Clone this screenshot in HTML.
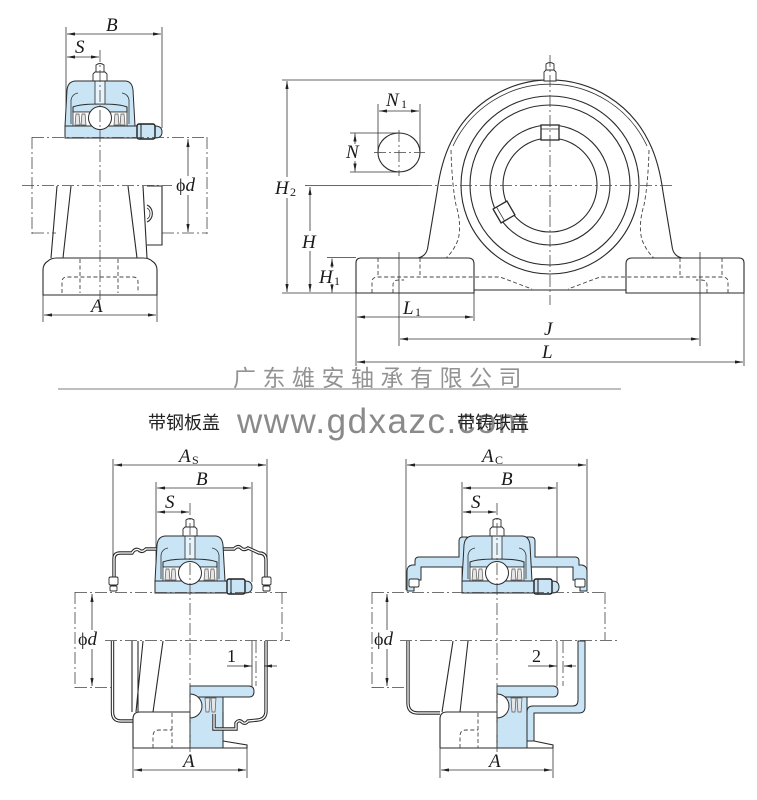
<!DOCTYPE html>
<html><head><meta charset="utf-8">
<style>
html,body{margin:0;padding:0;background:#fff;width:757px;height:800px;overflow:hidden;}
svg{display:block;}
.o{fill:none;stroke:#2a2a2a;stroke-width:1.1;}
.t{fill:none;stroke:#333;stroke-width:.8;}
.c{fill:none;stroke:#444;stroke-width:.8;stroke-dasharray:12 3 2 3;}
.h{fill:none;stroke:#444;stroke-width:.9;stroke-dasharray:4 2.5;}
.d{fill:none;stroke:#333;stroke-width:.8;marker-start:url(#a);marker-end:url(#a);}
.d1{fill:none;stroke:#333;stroke-width:.8;marker-end:url(#a);}
.lb{font-family:"Liberation Serif",serif;font-style:italic;font-size:19px;fill:#1a1a1a;}
.sb{font-family:"Liberation Serif",serif;font-style:normal;font-size:12px;fill:#1a1a1a;}
.nm{font-family:"Liberation Serif",serif;font-style:normal;font-size:18px;fill:#1a1a1a;}
.bl{fill:#c8e4f5;stroke:#2a2a2a;stroke-width:1;}
.w{fill:#fff;stroke:none;}
</style></head>
<body>
<svg width="757" height="800" viewBox="0 0 757 800" xmlns="http://www.w3.org/2000/svg">
<defs>
<marker id="a" viewBox="0 0 10 4" refX="10" refY="2" markerWidth="8" markerHeight="3.2" orient="auto-start-reverse" markerUnits="userSpaceOnUse"><path d="M0,0 L10,2 L0,4 Z" fill="#222"/></marker>
<g id="brg">
 <path class="bl" d="M-35,-12 L-33,-48 Q-32,-57 -24,-57 L25,-57 Q32,-57 33,-48 L35,-12 Z"/>
 <path class="t" d="M-29,-14 L-29,-38 Q-28,-44 -22,-45"/>
 <path class="t" d="M29,-14 L29,-38 Q28,-44 22,-45"/>
 <path class="bl" d="M-27,-26 L-27,-31 Q-20,-34 0,-34 Q20,-34 27,-31 L27,-26 Z"/>
 <rect x="-27" y="-26" width="54" height="14" fill="#fff" stroke="#2a2a2a" stroke-width=".8"/>
 <g stroke="#555" stroke-width=".7" fill="#e6e6e6">
  <path d="M-25,-13 L-24,-24 L-21,-24 L-20,-13 Z"/>
  <path d="M-19,-13 L-18,-24 L-15,-24 L-14,-13 Z"/>
  <path d="M25,-13 L24,-24 L21,-24 L20,-13 Z"/>
  <path d="M19,-13 L18,-24 L15,-24 L14,-13 Z"/>
 </g>
 <path class="bl" d="M-35,-12 L55,-12 Q62,-12 62,-6 Q62,0 55,0 L-35,0 Z"/>
 <rect x="37" y="-14" width="18" height="15" rx="2" fill="#c8e4f5" stroke="#1e1e1e" stroke-width="1.4"/>
 <line x1="41" y1="-14" x2="41" y2="1" stroke="#222" stroke-width="1"/>
 <circle cx="0" cy="-20" r="11.5" fill="#fff" stroke="#2a2a2a" stroke-width="1"/>
 <rect x="-5" y="-57" width="10" height="23" fill="#e8f4fb" stroke="#2a2a2a" stroke-width=".8"/>
 <path fill="#fff" stroke="#2a2a2a" stroke-width=".9" d="M-7,-57 L-7,-64 L-5,-66 L5,-66 L7,-64 L7,-57 Z"/>
 <path fill="#fff" stroke="#2a2a2a" stroke-width=".9" d="M-4,-66 L-4,-73 Q0,-76 4,-73 L4,-66 Z"/>
</g>
</defs>
<rect width="757" height="800" fill="#fff"/>

<!-- ============ TOP LEFT VIEW ============ -->
<line class="t" x1="66" y1="27" x2="66" y2="134"/>
<line class="t" x1="162" y1="27" x2="162" y2="128"/>
<line class="d" x1="67" y1="34" x2="161" y2="34"/>
<line class="d" x1="67" y1="57" x2="99" y2="57"/>
<text class="lb" x="106" y="31">B</text>
<text class="lb" x="75" y="53">S</text>

<use href="#brg" x="100" y="138"/>

<line class="c" x1="32" y1="137.5" x2="207" y2="137.5"/>
<line class="c" x1="32" y1="137" x2="32" y2="237"/>
<line class="c" x1="207" y1="137" x2="207" y2="237"/>
<line class="c" x1="32" y1="233" x2="56" y2="233"/>
<line class="c" x1="162" y1="233" x2="207" y2="233"/>
<line class="c" x1="22" y1="185.5" x2="172" y2="185.5"/>
<line class="d" x1="188" y1="139" x2="188" y2="232"/>
<rect class="w" x="176" y="176" width="26" height="19"/>
<text class="nm" x="176" y="191">ϕ<tspan class="lb" font-size="19">d</tspan></text>

<path class="o" d="M57,186 L51,258"/>
<path class="o" d="M71,186 L63,258"/>
<path class="o" d="M128,186 L137,258"/>
<path class="o" d="M143,186 L147,258"/>
<path class="o" d="M147,186 L162,186 L162,245 L147,245"/>
<path class="o" d="M147,205 A8,9 0 0 1 147,222"/>
<path class="t" d="M147,208 A5,6 0 0 1 147,219"/>
<path class="o" d="M43,295 L43,270 Q43,264 48,261 Q51,258 57,258 L143,258 Q149,258 152,261 Q157,264 157,270 L157,295 Z"/>
<path class="h" d="M80,259 L80,293 M118,259 L118,293"/>
<path class="h" d="M62,293 L62,282 Q62,277 67,277 L133,277 Q138,277 138,282 L138,293"/>
<line class="c" x1="100" y1="50" x2="100" y2="300"/>
<line class="t" x1="43" y1="295" x2="43" y2="322"/>
<line class="t" x1="157" y1="295" x2="157" y2="322"/>
<line class="d" x1="44" y1="315" x2="156" y2="315"/>
<text class="lb" x="91" y="312">A</text>

<!-- ============ MAIN FRONT VIEW ============ -->
<line class="t" x1="282" y1="80" x2="545" y2="80"/>
<line class="t" x1="282" y1="293" x2="356" y2="293"/>
<line class="t" x1="305" y1="185.5" x2="420" y2="185.5"/>
<line class="t" x1="327" y1="257.5" x2="356" y2="257.5"/>
<line class="d" x1="287" y1="81" x2="287" y2="292"/>
<rect class="w" x="273" y="177" width="28" height="21"/>
<text class="lb" x="275" y="194">H</text><text class="sb" x="290" y="196">2</text>
<line class="d" x1="310" y1="187" x2="310" y2="292"/>
<rect class="w" x="300" y="231" width="19" height="20"/>
<text class="lb" x="302" y="248">H</text>
<line class="d1" x1="332" y1="268" x2="332" y2="258.5"/>
<line class="d1" x1="332" y1="284" x2="332" y2="292.5"/>
<text class="lb" x="319" y="283">H</text><text class="sb" x="334" y="285">1</text>

<line class="t" x1="378" y1="104" x2="378" y2="153"/>
<line class="t" x1="420" y1="104" x2="420" y2="153"/>
<line class="d" x1="379" y1="111" x2="419" y2="111"/>
<text class="lb" x="386" y="106">N</text><text class="sb" x="401" y="108">1</text>
<line class="t" x1="350" y1="133" x2="400" y2="133"/>
<line class="t" x1="350" y1="172" x2="400" y2="172"/>
<line class="d1" x1="355" y1="144" x2="355" y2="133.5"/>
<line class="d1" x1="355" y1="161" x2="355" y2="171.5"/>
<text class="lb" x="346" y="158">N</text>
<ellipse class="o" cx="399" cy="152.5" rx="21" ry="19.5"/>
<line class="c" x1="374" y1="152.5" x2="425" y2="152.5"/>
<line class="c" x1="399" y1="130" x2="399" y2="176"/>

<path class="o" d="M418,258 Q427,256 428,246 L437,192 Q441,162 451,142"/>
<path class="o" d="M682,258 Q673,256 672,246 L663,192 Q659,162 649,142"/>
<path class="o" d="M451,142 A110,110 0 0 1 649,142"/>
<path class="t" d="M453,146 A107,107 0 0 1 647,146"/>
<path class="o" d="M356,293 L356,263 Q356,258 361,258 L468,258 Q474,258 474,264 L474,293 Z"/>
<path class="o" d="M744,293 L744,263 Q744,258 739,258 L632,258 Q626,258 626,264 L626,293 Z"/>
<path class="o" d="M474,290 L626,290"/>
<path class="h" d="M378,258 L378,277 M420,258 L420,277"/>
<path class="h" d="M372,293 L372,282 Q372,277 378,277 L500,277 L532,289"/>
<path class="h" d="M393,293 L393,285 Q393,280 399,280 L404,280"/>
<path class="h" d="M680,258 L680,277 M722,258 L722,277"/>
<path class="h" d="M728,293 L728,282 Q728,277 722,277 L600,277 L568,289"/>
<path class="h" d="M707,293 L707,285 Q707,280 701,280 L696,280"/>
<path class="h" d="M451,150 Q452,185 456,205 Q462,225 458,240 Q453,252 446,258"/>
<path class="h" d="M649,150 Q648,185 644,205 Q638,225 642,240 Q647,252 654,258"/>
<circle class="o" cx="550" cy="185" r="89"/>
<circle class="o" cx="550" cy="185" r="80"/>
<circle class="o" cx="550" cy="185" r="60"/>
<circle class="o" cx="550" cy="185" r="47"/>
<rect x="541" y="125" width="18" height="15" fill="#fff" stroke="#2a2a2a" stroke-width="1.3"/>
<line class="t" x1="541" y1="129" x2="559" y2="129"/>
<g transform="translate(504,212) rotate(-30)">
<rect x="-8" y="-8" width="16" height="16" fill="#fff" stroke="#2a2a2a" stroke-width="1.3"/>
<line class="t" x1="-4" y1="-8" x2="-4" y2="8"/>
</g>
<path fill="#fff" stroke="#2a2a2a" stroke-width=".9" d="M544,81 L544,72 L546,70 L554,70 L556,72 L556,81 Z"/>
<path fill="#fff" stroke="#2a2a2a" stroke-width=".9" d="M546,70 L546,64 Q550,61 554,64 L554,70 Z"/>
<line class="c" x1="550" y1="55" x2="550" y2="305"/>
<line class="c" x1="420" y1="185.5" x2="672" y2="185.5"/>

<line class="t" x1="356" y1="293" x2="356" y2="366"/>
<line class="t" x1="474" y1="293" x2="474" y2="321"/>
<line class="t" x1="744" y1="293" x2="744" y2="366"/>
<line class="t" x1="399" y1="252" x2="399" y2="346"/>
<line class="t" x1="700" y1="252" x2="700" y2="346"/>
<line class="d" x1="357" y1="317" x2="473" y2="317"/>
<text class="lb" x="403" y="314">L</text><text class="sb" x="415" y="316">1</text>
<line class="d" x1="400" y1="339" x2="699" y2="339"/>
<text class="lb" x="544" y="335">J</text>
<line class="d" x1="357" y1="362" x2="743" y2="362"/>
<text class="lb" x="542" y="358">L</text>

<!-- ============ MIDDLE TEXT ============ -->
<text x="233" y="386" font-size="23" letter-spacing="6.5" fill="#939393" font-family="'Liberation Sans','Noto Sans CJK SC',sans-serif">广东雄安轴承有限公司</text>
<line x1="58" y1="389" x2="621" y2="389" stroke="#b4b4b4" stroke-width="1.8"/>
<text x="237" y="433" font-size="35" letter-spacing="1.5" fill="#8a8a8a" font-family="'Liberation Sans',sans-serif">www.gdxazc.com</text>
<text x="148" y="429" font-size="18" fill="#222" font-family="'Liberation Sans','Noto Sans CJK SC',sans-serif">带钢板盖</text>
<text x="457" y="429" font-size="18" fill="#222" font-family="'Liberation Sans','Noto Sans CJK SC',sans-serif">带铸铁盖</text>

<!-- ============ BOTTOM LEFT VIEW ============ -->
<line class="t" x1="113" y1="459" x2="113" y2="575"/>
<line class="t" x1="267" y1="459" x2="267" y2="575"/>
<line class="d" x1="114" y1="465" x2="266" y2="465"/>
<text class="lb" x="179" y="462">A</text><text class="sb" x="192" y="464" font-size="13">S</text>
<line class="t" x1="156" y1="482" x2="156" y2="582"/>
<line class="t" x1="252" y1="482" x2="252" y2="582"/>
<line class="d" x1="157" y1="488" x2="251" y2="488"/>
<text class="lb" x="196" y="485">B</text>
<line class="d" x1="157" y1="512" x2="189" y2="512"/>
<text class="lb" x="165" y="508">S</text>

<g fill="none">
<path stroke="#2a2a2a" stroke-width="3.4" d="M114,590 L114,559 Q114,553 120,553 L132,553 Q135,548 139,550 Q142,553 146,549 L159,549"/>
<path stroke="#fff" stroke-width="1.3" d="M114,590 L114,559 Q114,553 120,553 L132,553 Q135,548 139,550 Q142,553 146,549 L159,549"/>
<path stroke="#2a2a2a" stroke-width="3.4" d="M221,549 L234,549 Q238,545 241,548 Q244,551 248,548 L259,553 Q266,553 266,560 L266,590"/>
<path stroke="#fff" stroke-width="1.3" d="M221,549 L234,549 Q238,545 241,548 Q244,551 248,548 L259,553 Q266,553 266,560 L266,590"/>
</g>
<g fill="#fff" stroke="#2a2a2a" stroke-width=".9">
<rect x="109" y="577" width="9" height="8" rx="1.5"/><rect x="110" y="586" width="7" height="5" rx="1"/>
<rect x="262" y="577" width="9" height="8" rx="1.5"/><rect x="263" y="586" width="7" height="5" rx="1"/>
</g>
<use href="#brg" x="190" y="593"/>

<line class="c" x1="75" y1="592.5" x2="290" y2="592.5"/>
<line class="c" x1="105" y1="640.5" x2="290" y2="640.5"/>
<line class="c" x1="75" y1="592" x2="75" y2="688"/>
<line class="c" x1="75" y1="687.5" x2="112" y2="687.5"/>
<line class="c" x1="282" y1="592" x2="282" y2="640"/>
<line class="d" x1="92" y1="594" x2="92" y2="686"/>
<rect class="w" x="77" y="630" width="27" height="19"/>
<text class="nm" x="78" y="645">ϕ<tspan class="lb" font-size="19">d</tspan></text>

<g fill="none">
<path stroke="#2a2a2a" stroke-width="3.4" d="M112.5,641 L112.5,712 Q112.5,721 121,721 L133,721"/>
<path stroke="#fff" stroke-width="1.3" d="M112.5,641 L112.5,712 Q112.5,721 121,721 L133,721"/>
</g>
<path class="o" d="M132,641 L132,712 M138,641 L138,712 M143,641 L136,712 M163,641 L153,712"/>
<path class="o" d="M133,748 L133,719 Q133,712 140,712 L190,712"/>
<path class="o" d="M133,748 L223,748 L247,748 L247,745 L223,741"/>
<path class="h" d="M172,713 L172,748"/>
<path class="h" d="M153,748 L153,736 Q153,730 159,730 L172,730"/>
<path class="bl" d="M190,686 L249,686 Q254,686 254,691.5 Q254,697 249,697 L190,697 Z"/>
<path class="bl" d="M190,697 L223,697 L223,748 L190,748 Z"/>
<path d="M190,694 A12,12 0 0 1 190,718 Z" fill="#fff" stroke="#2a2a2a" stroke-width="1"/>
<g stroke="#555" stroke-width=".7" fill="#e6e6e6">
<path d="M205,698 L206,712 L209,712 L210,698 Z"/><path d="M211,698 L212,712 L215,712 L216,698 Z"/>
</g>
<path class="o" d="M223,712 L223,730"/>
<g fill="none">
<path stroke="#2a2a2a" stroke-width="3.4" d="M266,641 L266,711 Q266,719 258,720 L248,721 Q245,725 242,722 Q239,719 236,723 L236,729 L214,729 L214,714"/>
<path stroke="#fff" stroke-width="1.3" d="M266,641 L266,711 Q266,719 258,720 L248,721 Q245,725 242,722 Q239,719 236,723 L236,729 L214,729 L214,714"/>
</g>
<line class="t" x1="252" y1="641" x2="252" y2="686"/>
<line class="c" x1="256" y1="641" x2="256" y2="686"/>
<line class="t" x1="227" y1="666" x2="238" y2="666"/>
<line class="d1" x1="238" y1="666" x2="252" y2="666"/>
<line class="d1" x1="277" y1="666" x2="264" y2="666"/>
<text class="nm" x="227" y="662">1</text>
<line class="c" x1="190" y1="503" x2="190" y2="752"/>
<line class="t" x1="133" y1="748" x2="133" y2="778"/>
<line class="t" x1="247" y1="748" x2="247" y2="778"/>
<line class="d" x1="134" y1="770" x2="246" y2="770"/>
<text class="lb" x="183" y="767">A</text>

<!-- ============ BOTTOM RIGHT VIEW ============ -->
<line class="t" x1="406" y1="459" x2="406" y2="590"/>
<line class="t" x1="587" y1="459" x2="587" y2="590"/>
<line class="d" x1="407" y1="465" x2="586" y2="465"/>
<text class="lb" x="482" y="462">A</text><text class="sb" x="495" y="464" font-size="13">C</text>
<line class="t" x1="462" y1="482" x2="462" y2="582"/>
<line class="t" x1="557" y1="482" x2="557" y2="582"/>
<line class="d" x1="463" y1="488" x2="556" y2="488"/>
<text class="lb" x="501" y="485">B</text>
<line class="d" x1="463" y1="512" x2="496" y2="512"/>
<text class="lb" x="471" y="508">S</text>

<path class="bl" d="M407,591 L407,571 Q407,566 412,565 L415,565 L415,561 Q415,557 419,557 L459,557 L459,541 Q459,537 463,537 L467,537 L467,567 L421,567 L421,580 L414,580 L414,591 Z"/>
<path class="bl" d="M587,591 L587,571 Q587,566 582,565 L579,565 L579,561 Q579,557 575,557 L535,557 L535,541 Q535,537 531,537 L527,537 L527,567 L573,567 L573,580 L580,580 L580,591 Z"/>
<g fill="#fff" stroke="#2a2a2a" stroke-width=".9">
<rect x="409" y="579" width="10" height="8" rx="1.5"/>
<rect x="575" y="579" width="10" height="8" rx="1.5"/>
</g>
<use href="#brg" x="497" y="593"/>

<line class="c" x1="372" y1="592.5" x2="605" y2="592.5"/>
<line class="c" x1="400" y1="640.5" x2="617" y2="640.5"/>
<line class="c" x1="372" y1="592" x2="372" y2="688"/>
<line class="c" x1="372" y1="687.5" x2="406" y2="687.5"/>
<line class="c" x1="605" y1="592" x2="605" y2="640"/>
<line class="d" x1="387" y1="594" x2="387" y2="686"/>
<rect class="w" x="373" y="630" width="27" height="19"/>
<text class="nm" x="374" y="645">ϕ<tspan class="lb" font-size="19">d</tspan></text>

<g fill="none">
<path stroke="#2a2a2a" stroke-width="3.4" d="M408,641 L408,703 Q408,713 418,713 L440,713"/>
<path stroke="#fff" stroke-width="1.3" d="M408,641 L408,703 Q408,713 418,713 L440,713"/>
</g>
<path class="o" d="M453,641 L442,712 M468,641 L460,712"/>
<path class="o" d="M440,748 L440,719 Q440,712 447,712 L497,712"/>
<path class="o" d="M440,748 L553,748 L553,745 L534,741"/>
<path class="h" d="M478,713 L478,748"/>
<path class="h" d="M460,748 L460,736 Q460,730 466,730 L478,730"/>
<path class="bl" d="M585,641 L585,707 Q585,713 579,713 L534,713 L534,741 L527,741 L527,712 Q527,706 533,706 L573,706 Q578,706 578,700 L578,641 Z"/>
<path class="bl" d="M497,686 L553,686 Q558,686 558,691.5 Q558,697 553,697 L497,697 Z"/>
<path class="bl" d="M497,697 L527,697 L527,748 L497,748 Z"/>
<path d="M497,694 A12,12 0 0 1 497,718 Z" fill="#fff" stroke="#2a2a2a" stroke-width="1"/>
<g stroke="#555" stroke-width=".7" fill="#e6e6e6">
<path d="M511,698 L512,712 L515,712 L516,698 Z"/><path d="M517,698 L518,712 L521,712 L522,698 Z"/>
</g>
<line class="t" x1="557" y1="641" x2="557" y2="686"/>
<line class="c" x1="563" y1="641" x2="563" y2="686"/>
<line class="t" x1="528" y1="666" x2="543" y2="666"/>
<line class="d1" x1="543" y1="666" x2="557" y2="666"/>
<line class="d1" x1="576" y1="666" x2="564" y2="666"/>
<text class="nm" x="532" y="662">2</text>
<line class="c" x1="497" y1="503" x2="497" y2="752"/>
<line class="t" x1="440" y1="748" x2="440" y2="778"/>
<line class="t" x1="553" y1="748" x2="553" y2="778"/>
<line class="d" x1="441" y1="770" x2="552" y2="770"/>
<text class="lb" x="489" y="767">A</text>
</svg>
</body></html>
